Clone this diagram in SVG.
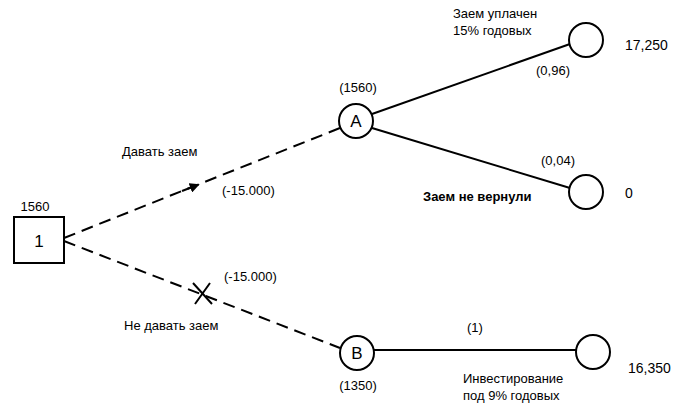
<svg xmlns="http://www.w3.org/2000/svg" width="680" height="405" viewBox="0 0 680 405">
<style>
text{font-family:"Liberation Sans",Arial,sans-serif;font-size:13px;fill:#000}
.n{fill:#fff;stroke:#000;stroke-width:2}
.s{stroke:#000;stroke-width:2;fill:none}
.d{stroke:#000;stroke-width:2;fill:none;stroke-dasharray:12,7}
.big{font-size:17px}
.v{font-size:14px}
</style>
<defs><marker id="ar" viewBox="0 0 10 10" refX="5" refY="5" markerWidth="5" markerHeight="5" orient="auto"><path d="M0,0L10,5L0,10z" fill="#000"/></marker></defs>
<g id="connectors">
<line class="d" x1="64" y1="238" x2="340" y2="128"/>
<line class="s" x1="182" y1="191" x2="195" y2="186" marker-end="url(#ar)"/>
<line class="d" x1="64" y1="241" x2="340" y2="348"/>
<path class="s" d="M193,283L212,304M210,283L195,304" stroke-width="1.5"/>
<line class="s" x1="372" y1="114" x2="570" y2="44"/>
<line class="s" x1="372" y1="128" x2="570" y2="188"/>
<line class="s" x1="374" y1="350" x2="576" y2="350"/>
</g>
<g id="n1"><rect class="n" x="14" y="217" width="50" height="46"/><text class="big" x="39" y="247" text-anchor="middle">1</text><text x="35" y="211" text-anchor="middle">1560</text></g>
<g id="nA"><circle class="n" cx="356" cy="121" r="17"/><text class="big" x="356" y="127" text-anchor="middle">A</text><text x="358" y="92" text-anchor="middle">(1560)</text></g>
<g id="nB"><circle class="n" cx="357" cy="353" r="17"/><text class="big" x="357" y="359" text-anchor="middle">B</text><text x="358" y="390" text-anchor="middle">(1350)</text></g>
<g id="t1"><circle class="n" cx="586" cy="40" r="17"/><text class="v" x="625" y="50">17,250</text></g>
<g id="t2"><circle class="n" cx="586" cy="192" r="17"/><text class="v" x="625" y="198">0</text></g>
<g id="t3"><circle class="n" cx="593" cy="352" r="17"/><text class="v" x="628" y="373">16,350</text></g>
<g id="labels">
<text x="453" y="18">Заем уплачен</text><text x="453" y="35">15% годовых</text>
<text x="536" y="75">(0,96)</text>
<text x="541" y="165">(0,04)</text>
<text x="423" y="201" font-weight="bold">Заем не вернули</text>
<text x="122" y="156">Давать заем</text>
<text x="222" y="195">(-15.000)</text>
<text x="224" y="281">(-15.000)</text>
<text x="124" y="330">Не давать заем</text>
<text x="467" y="332">(1)</text>
<text x="463" y="383">Инвестирование</text><text x="463" y="400">под 9% годовых</text>
</g>
</svg>
